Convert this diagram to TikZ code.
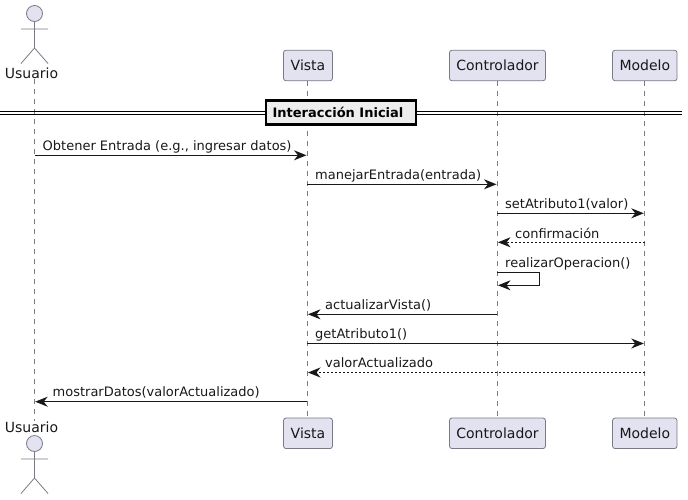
\documentclass[tikz,border=0pt]{standalone}
\usepackage{fontspec}
\setmainfont{DejaVu Sans}
\usetikzlibrary{arrows.meta}
\definecolor{partfill}{HTML}{E2E2F0}
\definecolor{partline}{HTML}{7A7A85}
\definecolor{ink}{HTML}{181818}
\tikzset{
  x=1pt,y=-1pt,
  partbox/.style={draw=partline,fill=partfill,rounded corners=2.5pt,line width=.8pt,inner sep=0pt,minimum height=30.5pt,font=\fontsize{14}{16}\selectfont,text=ink},
  actorname/.style={inner sep=0pt,font=\fontsize{14}{16}\selectfont,text=ink},
  actorpart/.style={draw=partline,line width=.8pt},
  lifeline/.style={draw=partline,line width=.8pt,dash pattern=on 5pt off 5pt},
  tipsty/.style={-{Stealth[length=12.5pt,width=10pt,inset=4pt]}},
  msg/.style={draw=ink,line width=1pt,tipsty},
  ret/.style={draw=ink,line width=.9pt,tipsty,dash pattern=on 2pt off 2pt},
  msgtext/.style={anchor=base west,inner sep=0pt,font=\fontsize{13}{15}\selectfont,text=ink},
  dividerline/.style={draw=black,line width=1.1pt},
  dividerbox/.style={draw=black,line width=2.2pt,fill=black!7,inner sep=0pt,minimum width=150pt,minimum height=24pt,text=black},
  dividertext/.style={inner sep=0pt,font=\fontsize{13}{15}\selectfont\bfseries,text=black}
}
\begin{document}
\begin{tikzpicture}
\useasboundingbox (0,0) rectangle (688,499);
% participants
\node[partbox,minimum width=49pt] (vt) at (308,65.5) {Vista};
\node[partbox,minimum width=96pt] (ct) at (497.5,65.5) {Controlador};
\node[partbox,minimum width=64.5pt] (mt) at (644.8,65.5) {Modelo};
\node[partbox,minimum width=49pt] (vb) at (308,433.3) {Vista};
\node[partbox,minimum width=96pt] (cb) at (497.5,433.3) {Controlador};
\node[partbox,minimum width=64.5pt] (mb) at (644.8,433.3) {Modelo};
\node[actorname] (ut) at (31.5,73.5) {Usuario};
\node[actorname] (ub) at (31.5,427) {Usuario};
% lifelines
\path[lifeline] ([xshift=3pt]ut.south) -- ([xshift=3pt]ub.north);
\path[lifeline] ([xshift=-.7pt]vt.south) -- ([xshift=-.7pt]vb.north);
\path[lifeline] ([xshift=-.2pt]ct.south) -- ([xshift=-.2pt]cb.north);
\path[lifeline] ([xshift=-.3pt]mt.south) -- ([xshift=-.3pt]mb.north);
% actors
\draw[actorpart,fill=partfill] (34.5,13.5) circle (8);
\draw[actorpart] (34.5,21.5) -- (34.5,48) (21,29) -- (48,29) (21,63.5) -- (34.5,48) -- (48,63.5);
\draw[actorpart,fill=partfill] (34.5,443.5) circle (8);
\draw[actorpart] (34.5,451.5) -- (34.5,478) (21,459) -- (48,459) (21,493.5) -- (34.5,478) -- (48,493.5);
% divider
\coordinate (dl1) at (0,111.3);
\coordinate (dr1) at (682,111.3);
\coordinate (dl2) at (0,114.7);
\coordinate (dr2) at (682,114.7);
\path[dividerline] (dl1) -- (dr1);
\path[dividerline] (dl2) -- (dr2);
\node[dividerbox] (div) at (340.8,112.5) {};
\node[dividertext] (divt) at (338,112.5) {Interacción Inicial};
% messages
\coordinate (m1a) at (34.5,155.3);  \coordinate (m1b) at (306.5,155.3);
\coordinate (m2a) at (307.3,184.3); \coordinate (m2b) at (496.5,184.3);
\coordinate (m3a) at (497.3,213.3); \coordinate (m3b) at (643.8,213.3);
\coordinate (m4a) at (644.5,242.3); \coordinate (m4b) at (498,242.3);
\coordinate (m5a) at (497.3,272.3); \coordinate (m5c) at (539.5,272.3); \coordinate (m5d) at (539.5,285.3); \coordinate (m5b) at (498,285.3);
\coordinate (m6a) at (497.3,314.3); \coordinate (m6b) at (308,314.3);
\coordinate (m7a) at (307.3,343.5); \coordinate (m7b) at (643.8,343.5);
\coordinate (m8a) at (644.5,372.5); \coordinate (m8b) at (308,372.5);
\coordinate (m9a) at (307.3,401.7); \coordinate (m9b) at (35.2,401.7);
\path[msg] (m1a) -- (m1b);
\path[msg] (m2a) -- (m2b);
\path[msg] (m3a) -- (m3b);
\path[ret] (m4a) -- (m4b);
\path[msg] (m5a) -- (m5c) -- (m5d) -- (m5b);
\path[msg] (m6a) -- (m6b);
\path[msg] (m7a) -- (m7b);
\path[ret] (m8a) -- (m8b);
\path[msg] (m9a) -- (m9b);
% message labels
\node[msgtext] (t1) at (42.5,150) {Obtener Entrada (e.g., ingresar datos)};
\node[msgtext] (t2) at (315,179) {manejarEntrada(entrada)};
\node[msgtext] (t3) at (505,208) {setAtributo1(valor)};
\node[msgtext] (t4) at (515,238) {confirmación};
\node[msgtext] (t5) at (505,267) {realizarOperacion()};
\node[msgtext] (t6) at (325,309) {actualizarVista()};
\node[msgtext] (t7) at (315,338.5) {getAtributo1()};
\node[msgtext] (t8) at (325,367.5) {valorActualizado};
\node[msgtext] (t9) at (52.5,396.5) {mostrarDatos(valorActualizado)};
\end{tikzpicture}
\end{document}
